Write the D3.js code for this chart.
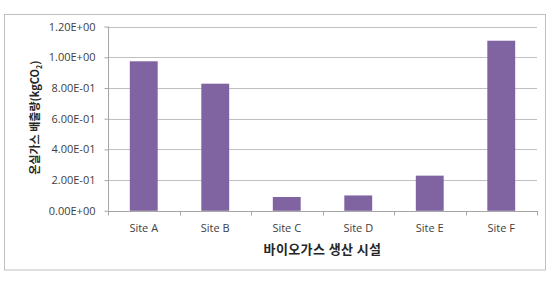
<!DOCTYPE html>
<html><head><meta charset="utf-8">
<script src="https://cdn.jsdelivr.net/npm/d3@7"></script>
<style>body{margin:0;background:#fff;}svg{display:block;font-family:"Open Sans","Noto Sans CJK KR",sans-serif;}</style>
</head><body>
<script>
const categories = ["Site A","Site B","Site C","Site D","Site E","Site F"];
const values = [0.974, 0.828, 0.09, 0.10, 0.229, 1.108];
const yTicks = [0, 0.2, 0.4, 0.6, 0.8, 1.0, 1.2];
const yTickLabels = ["0.00E+00","2.00E-01","4.00E-01","6.00E-01","8.00E-01","1.00E+00","1.20E+00"];
const xTitle = "바이오가스 생산 시설";
const yTitle = "온실가스 배출량(kgCO";

const W = 555, H = 281;
const svg = d3.select("body").append("svg").attr("width", W).attr("height", H);
svg.append("rect").attr("x", 4.5).attr("y", 14.5).attr("width", 541).attr("height", 255.5)
  .attr("fill", "#fff").attr("stroke", "#bfbfbf").attr("stroke-width", 1);

const L = 108, R = 537, T = 26.6, B = 210.8;
const x = d3.scaleBand().domain(categories).range([L, R]).paddingInner(0.61).paddingOuter(0.305);
const xb = d3.scaleBand().domain(categories).range([L, R]);
const y = d3.scaleLinear().domain([0, 1.2]).range([B, T]);

// gridlines
svg.append("g").selectAll("line").data(yTicks.slice(1)).join("line")
  .attr("x1", L).attr("x2", R).attr("y1", d => Math.round(y(d)) + 0.5).attr("y2", d => Math.round(y(d)) + 0.5)
  .attr("stroke", "#c0c0c0").attr("stroke-width", 1);

// bars
svg.append("g").selectAll("rect").data(values).join("rect")
  .attr("x", (d, i) => x(categories[i])).attr("width", x.bandwidth())
  .attr("y", d => y(d)).attr("height", d => B - y(d))
  .attr("fill", "#8064a2");

// y axis
const yAxis = d3.axisLeft(y).tickValues(yTicks).tickSize(4).tickPadding(9)
  .tickFormat((d, i) => yTickLabels[i]);
const gy = svg.append("g").attr("transform", `translate(${L + 0.5},0)`).call(yAxis);
gy.select(".domain").attr("stroke", "#a6a6a6").attr("d", `M0,${T}V${B}`);
gy.selectAll(".tick line").attr("stroke", "#a6a6a6");
gy.selectAll(".tick text").attr("fill", "#404040").style("font-size", "11px").style("font-family", "'Open Sans',sans-serif");

// x axis
const gx = svg.append("g").attr("transform", `translate(0,${Math.round(B) + 0.5})`);
gx.append("line").attr("x1", L).attr("x2", R + 1).attr("stroke", "#a6a6a6");
gx.selectAll("line.tk").data(categories.concat(["end"])).join("line").attr("class", "tk")
  .attr("x1", (d, i) => i < categories.length ? Math.round(xb(d)) + 0.5 : R + 0.5)
  .attr("x2", (d, i) => i < categories.length ? Math.round(xb(d)) + 0.5 : R + 0.5)
  .attr("y1", 0).attr("y2", 4).attr("stroke", "#a6a6a6");
gx.selectAll("text").data(categories).join("text")
  .attr("x", d => xb(d) + xb.bandwidth() / 2).attr("y", 20)
  .attr("text-anchor", "middle").attr("fill", "#404040").style("font-size", "11px")
  .style("font-family", "'Open Sans',sans-serif").text(d => d);

// x title
svg.append("text").attr("x", (L + R) / 2).attr("y", 253.5).attr("text-anchor", "middle")
  .attr("fill", "#262626").style("font-size", "13px").style("font-weight", "bold")
  .style("letter-spacing", "0.4px")
  .style("font-family", "'Noto Sans CJK KR',sans-serif").text(xTitle);

// y title
const yt = svg.append("text").attr("transform", `translate(39,${(T + B) / 2 - 1}) rotate(-90)`)
  .attr("text-anchor", "middle").attr("fill", "#262626").style("font-size", "11px").style("font-weight", "bold")
  .style("font-family", "'Noto Sans CJK KR',sans-serif");
yt.append("tspan").text(yTitle);
yt.append("tspan").attr("dy", 3).style("font-size", "7px").text("2");
yt.append("tspan").attr("dy", -3).text(")");
</script>
</body></html>
